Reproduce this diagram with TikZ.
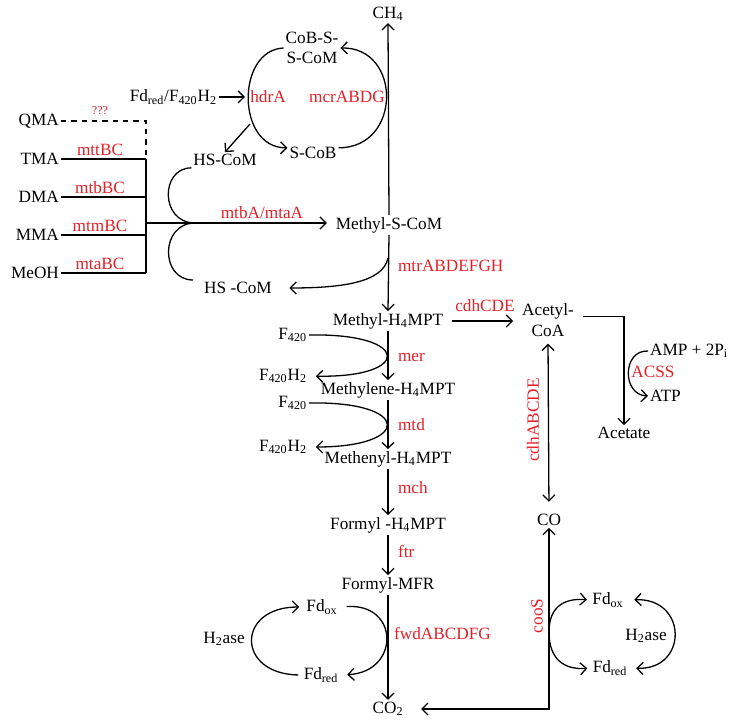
\documentclass[tikz,border=0pt]{standalone}
\usepackage{fontspec}
\setmainfont{Liberation Serif}
\usetikzlibrary{arrows.meta}
\definecolor{genered}{RGB}{228,32,40}
\newcommand{\sbs}[1]{\textsubscript{#1}}

\begin{document}
\begin{tikzpicture}[x=0.58pt,y=-0.58pt,
    every node/.style={inner sep=1pt},
    gene/.style={text=genered},
    plain/.style={line width=0.75pt,black},
    flow/.style={line width=0.75pt,black,-{Straight Barb[length=3.5pt,width=7pt]}},
    both/.style={line width=0.75pt,black,{Straight Barb[length=3.5pt,width=7pt]}-{Straight Barb[length=3.5pt,width=7pt]}}]
    \useasboundingbox (0,0) rectangle (732,728);

    % main column
    \node (ch4) at (388,14) {CH\sbs{4}};
    \node (msc) at (389,225) {Methyl-S-CoM};
    \node (mh) at (388,321) {Methyl-H\sbs{4}MPT};
    \node (mlh) at (388,390) {Methylene-H\sbs{4}MPT};
    \node (mnh) at (388,459) {Methenyl-H\sbs{4}MPT};
    \node (fh) at (388,525) {Formyl -H\sbs{4}MPT};
    \node (fmfr) at (388,585) {Formyl-MFR};
    \node (co2) at (388,709) {CO\sbs{2}};

    \draw[flow] (msc.north) -- (ch4.south);
    \draw[flow] (msc.south) -- (mh.north);
    \draw[flow] (mh.south) -- (mlh.north);
    \draw[flow] (mlh.south) -- (mnh.north);
    \draw[flow] (mnh.south) -- (fh.north);
    \draw[flow] (fh.south) -- (fmfr.north);
    \draw[flow] (fmfr.south) -- (co2.north);

    \node[gene,anchor=west] (mtr) at (396,266) {mtrABDEFGH};
    \node[gene,anchor=west] (mer) at (396,358) {mer};
    \node[gene,anchor=west] (mtd) at (396,425) {mtd};
    \node[gene,anchor=west] (mch) at (396,488) {mch};
    \node[gene,anchor=west] (ftr) at (396,552) {ftr};
    \node[gene,anchor=west] (fwd) at (392,634) {fwdABCDFG};

    % CoM / CoB cycle
    \node[align=center] (cobs) at (312,48) {CoB-S-\\S-CoM};
    \node (scob) at (313,153) {S-CoB};
    \node[anchor=east] (fdred) at (219,97) {Fd\sbs{red}/F\sbs{420}H\sbs{2}};
    \node (hscom1) at (225,160) {HS-CoM};
    \coordinate (hdrin) at (245,97);
    \coordinate (hdrout) at (250,124);

    \draw[flow] ([yshift=3pt]scob.east) .. controls (402,148) and (402,47) .. (cobs.east);
    \draw[flow] (cobs.west) .. controls (236,50) and (236,148) .. ([yshift=3pt]scob.west);
    \draw[flow] (fdred.east) -- (hdrin);
    \draw[flow] (hdrout) -- (hscom1.north);
    \node[gene] (hdr) at (268,97) {hdrA};
    \node[gene] (mcr) at (347,97) {mcrABDG};

    % methylated substrates
    \coordinate (jq) at (146,121);
    \coordinate (jt) at (146,159);
    \coordinate (jm) at (146,273);
    \coordinate (jc) at (146,223);
    \coordinate (jmeet) at (195,223);
    \node[anchor=east] (QMA) at (61,121) {QMA};
    \node[gene,font=\scriptsize] (qgene) at (100,111) {???};
    \draw[plain,dashed] (QMA.east) -| (jt);
    \foreach \sub/\gen/\y in {TMA/mttBC/159,DMA/mtbBC/197,MMA/mtmBC/235,MeOH/mtaBC/273}{
        \node[anchor=east] (\sub) at (61,\y) {\sub};
        \node[gene] at (100,\y-9) {\gen};
        \draw[plain] (\sub.east) -- (146,\y);
    }
    \draw[plain] (jt) -- (jm);
    \draw[flow,shorten >=4pt] (jc) -- (jc -| msc.west);
    \node[gene] (mtb) at (262,213) {mtbA/mtaA};

    \node (hscom2) at (238,288) {HS -CoM};
    \draw[plain] (hscom1.south west) .. controls (160,168) and (160,223) .. (jmeet);
    \draw[plain] (jmeet) .. controls (160,223) and (160,280) .. (193,280);
    \coordinate (mtrout) at (388,258);
    \draw[flow,shorten >=9pt] (mtrout) .. controls (383,283) and (340,288) .. (hscom2.east);

    % F420 cycles
    \node[anchor=east] (f1) at (309,335) {F\sbs{420}};
    \node[anchor=east] (f1h) at (309,376) {F\sbs{420}H\sbs{2}};
    \node[anchor=east] (f2) at (309,403) {F\sbs{420}};
    \node[anchor=east] (f2h) at (309,447) {F\sbs{420}H\sbs{2}};
    \draw[flow,shorten >=4pt] (f1.east) .. controls (412,333) and (412,378) .. (f1h.east);
    \draw[flow,shorten >=4pt] (f2.east) .. controls (412,401) and (412,447) .. (f2h.east);

    % ferredoxin cycle (fwd)
    \node (fdox1) at (322,607) {Fd\sbs{ox}};
    \node (fdred1) at (321,675) {Fd\sbs{red}};
    \node (h2ase1) at (224,639) {H\sbs{2}ase};
    \draw[flow,shorten <=4pt,shorten >=4pt] (fdox1.east) .. controls (400,603) and (400,672) .. (fdred1.east);
    \draw[flow,shorten <=2pt,shorten >=3pt] (fdred1.west) .. controls (236,674) and (236,607) .. (fdox1.west);

    % acetyl-CoA branch
    \node[align=center] (acoa) at (548,320) {Acetyl-\\CoA};
    \node (acetate) at (624,433) {Acetate};
    \node[anchor=west] (amp) at (648,351) {AMP + 2P\sbs{i}};
    \node[anchor=west] (atp) at (648,396) {ATP};
    \node (co) at (549,520) {CO};
    \draw[flow,shorten <=4pt,shorten >=4pt] (mh.east) -- (mh.east -| acoa.west);
    \node[gene] (cdh) at (485,306) {cdhCDE};
    \draw[flow,shorten <=4pt] ([yshift=2pt]acoa.east) -| (acetate.north);
    \draw[flow] (amp.west) .. controls (622,350) and (622,395) .. (atp.west);
    \node[gene] (acss) at (653,372) {ACSS};
    \draw[both,shorten <=3pt,shorten >=6pt] (acoa.south) -- (co.north);
    \node[gene,rotate=90] (cdhab) at (533,420) {cdhABCDE};
    \draw[both,shorten >=9pt] (co.south) |- (co2.east);
    \node[gene,rotate=90] (coos) at (537,616) {cooS};

    % ferredoxin cycle (cooS)
    \coordinate (coosin) at (549,632);
    \node (fdox2) at (608,600) {Fd\sbs{ox}};
    \node (fdred2) at (610,668) {Fd\sbs{red}};
    \node (h2ase2) at (646,636) {H\sbs{2}ase};
    \draw[flow,shorten >=2pt] (coosin) .. controls (549,606) and (565,598) .. (fdox2.west);
    \draw[flow,shorten >=2pt] (coosin) .. controls (549,660) and (565,670) .. (fdred2.west);
    \draw[both,shorten <=5pt,shorten >=4pt] (fdox2.east) .. controls (688,598) and (688,670) .. (fdred2.east);
\end{tikzpicture}
\end{document}
